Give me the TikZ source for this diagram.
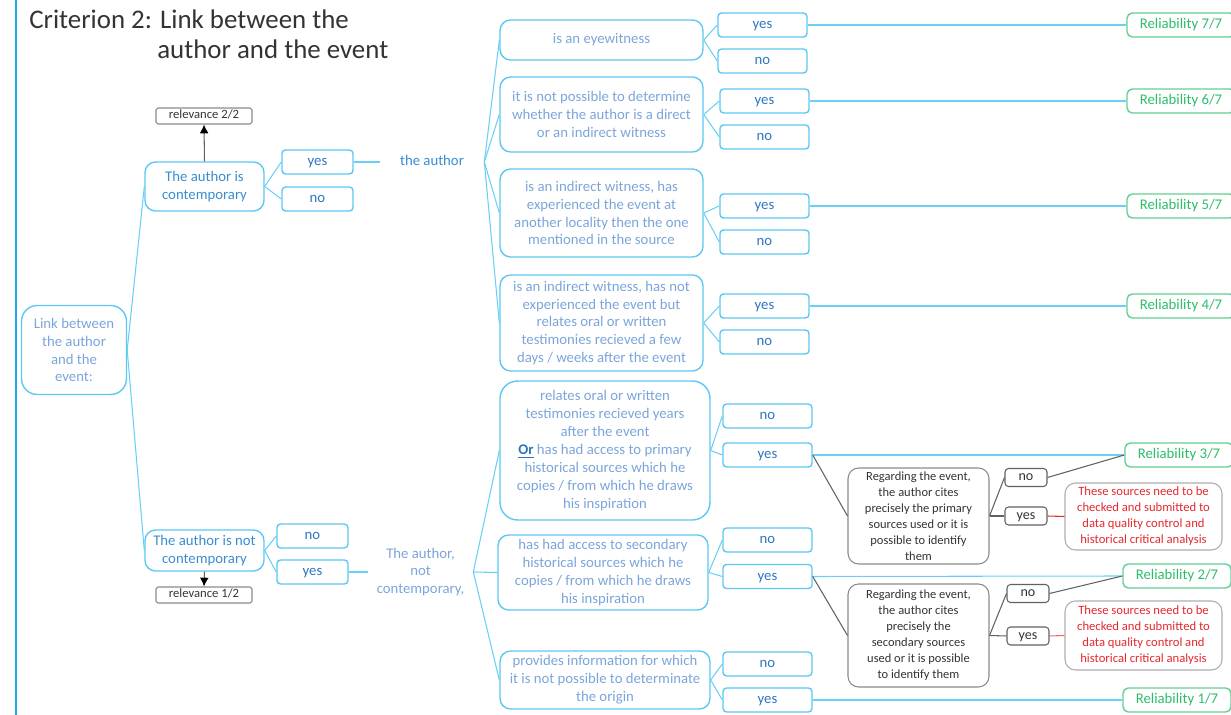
\documentclass[tikz,border=0pt]{standalone}
\usepackage{fontspec}
\setmainfont{Carlito}
\usetikzlibrary{arrows.meta}
\definecolor{frameblue}{HTML}{1EA7F0}
\definecolor{boxblue}{HTML}{5CC8F3}
\definecolor{lineblue}{HTML}{6ACFF5}
\definecolor{paleblue}{HTML}{7BA5DA}
\definecolor{textblue}{HTML}{2E75C0}
\definecolor{midblue}{HTML}{3A8DD0}
\definecolor{relgreen}{HTML}{2DBD6A}
\definecolor{relframe}{HTML}{63CF93}
\definecolor{greyframe}{HTML}{8A8A8A}
\definecolor{greytext}{HTML}{333333}
\definecolor{warnred}{HTML}{E4282C}
\def\mainfont{\fontsize{8.4}{10.2}\selectfont}
\def\smallfont{\fontsize{7.1}{9.1}\selectfont}
\tikzset{
	bluebox/.style={draw=boxblue, line width=0.8pt, rounded corners=6pt, align=center, inner sep=1pt, text=paleblue, font=\mainfont},
	oneline/.style={text height=6pt, text depth=2pt},
	answer/.style={draw=boxblue, line width=0.8pt, rounded corners=2pt, minimum width=1.78cm, minimum height=0.48cm, inner sep=0pt, oneline, text=textblue, font=\mainfont},
	relbox/.style={draw=relframe, line width=0.8pt, rounded corners=3pt, minimum width=2.16cm, minimum height=0.48cm, inner sep=0pt, oneline, text=relgreen, font=\mainfont},
	greybox/.style={draw=greyframe, line width=0.6pt, rounded corners=6pt, align=center, inner sep=0pt, text=greytext, font=\smallfont, minimum width=2.82cm},
	greyans/.style={draw=greyframe!70!black, line width=0.6pt, rounded corners=2pt, minimum width=0.84cm, minimum height=0.36cm, inner sep=0pt, text height=5.6pt, text depth=1.8pt, text=greytext, font=\fontsize{8}{9}\selectfont},
	redbox/.style={draw=greyframe!70, line width=0.6pt, rounded corners=6pt, align=center, inner sep=0pt, text=warnred, font=\fontsize{7.2}{9.1}\selectfont, minimum width=3.14cm},
	relevbox/.style={draw=greyframe, line width=0.6pt, rounded corners=1pt, minimum width=1.92cm, minimum height=0.32cm, inner sep=0pt, text height=5pt, text depth=1.6pt, text=greytext, font=\fontsize{7.2}{8}\selectfont},
	branch/.style={draw=lineblue, line width=0.6pt},
	greyline/.style={draw=greyframe!70!black, line width=0.6pt},
	redline/.style={draw=warnred, line width=0.6pt}
}

\begin{document}
\begin{tikzpicture}[x=0.02cm, y=-0.02cm]
			%%%%% START %%%%%
			\useasboundingbox (0, 0) rectangle (1231, 715);
			\draw[frameblue, line width=1.2pt] (16, 0) -- (16, 715);
			
			\node[anchor=west, inner sep=0pt, text=greytext, font=\fontsize{15.3}{17}\selectfont] (title1) at (29, 19) {Criterion 2: Link between the};
			\node[anchor=west, inner sep=0pt, text=greytext, font=\fontsize{15.3}{17}\selectfont] (title2) at (157, 49) {author and the event};
			
			\node[bluebox, rounded corners=9pt, minimum width=2.1cm, minimum height=1.78cm] (root) at (74, 350) {Link between\\the author\\and the\\event:};
			
			\node[bluebox, text=midblue, minimum width=2.38cm, minimum height=0.98cm] (cont) at (204.5, 186.5) {The author is\\contemporary};
			\node[bluebox, text=midblue, minimum width=2.38cm, minimum height=0.82cm] (notcont) at (204.5, 550.5) {The author is not\\contemporary};
			\node[relevbox] (relev2) at (204, 116) {relevance 2/2};
			\node[relevbox] (relev1) at (204, 595) {relevance 1/2};
			
			\node[answer, minimum width=1.42cm] (contyes) at (317.5, 162) {yes};
			\node[answer, minimum width=1.42cm] (contno) at (317.5, 199) {no};
			\node[answer, minimum width=1.42cm] (notcontno) at (312.5, 536) {no};
			\node[answer, minimum width=1.42cm] (notcontyes) at (312.5, 572) {yes};
			
			\node[inner sep=0pt, minimum width=2.08cm, oneline, text=midblue, font=\mainfont] (auth) at (432, 162) {the author};
			\node[inner sep=0pt, minimum width=2.1cm, align=center, text=paleblue, font=\mainfont] (notauth) at (420.5, 572) {The author,\\not\\contemporary,};
			
			% the author ...
			\node[bluebox, oneline, minimum width=4.06cm, minimum height=0.8cm] (eyew) at (601.5, 40) {is an eyewitness};
			\node[bluebox, minimum width=4.06cm, minimum height=1.5cm] (undet) at (601.5, 114.5) {it is not possible to determine\\whether the author is a direct\\or an indirect witness};
			\node[bluebox, minimum width=4.06cm, minimum height=1.76cm] (indir) at (601.5, 213) {is an indirect witness, has\\experienced the event at\\another locality then the one\\mentioned in the source};
			\node[bluebox, minimum width=4.06cm, minimum height=1.92cm] (indirnot) at (601.5, 323) {is an indirect witness, has not\\experienced the event but\\relates oral or written\\testimonies recieved a few\\days / weeks after the event};
			
			\node[answer] (eyewyes) at (762.5, 25) {yes};
			\node[answer] (eyewno) at (762.5, 61) {no};
			\node[answer] (undetyes) at (764.5, 101) {yes};
			\node[answer] (undetno) at (764.5, 137) {no};
			\node[answer] (indiryes) at (764.5, 206) {yes};
			\node[answer] (indirno) at (764.5, 242) {no};
			\node[answer] (indirnotyes) at (764.5, 306) {yes};
			\node[answer] (indirnotno) at (764.5, 342) {no};
			
			\node[relbox] (rel7) at (1181, 25) {Reliability 7/7};
			\node[relbox] (rel6) at (1181, 101) {Reliability 6/7};
			\node[relbox] (rel5) at (1181, 206) {Reliability 5/7};
			\node[relbox] (rel4) at (1181, 306) {Reliability 4/7};
			
			% the author, not contemporary ...
			\node[bluebox, rounded corners=10pt, minimum width=4.2cm, minimum height=2.78cm] (years) at (605, 450.5) {relates oral or written\\testimonies recieved years\\after the event\\{\color{textblue}\textbf{\underline{Or}}} has had access to primary\\historical sources which he\\copies / from which he draws\\his inspiration};
			\node[bluebox, minimum width=4.2cm, minimum height=1.5cm] (second) at (603, 572.5) {has had access to secondary\\historical sources which he\\copies / from which he draws\\his inspiration};
			\node[bluebox, minimum width=4.2cm, minimum height=1.16cm] (origin) at (605, 680) {provides information for which\\it is not possible to determinate\\the origin};
			
			\node[answer] (yearsno) at (767.5, 416) {no};
			\node[answer] (yearsyes) at (767.5, 455) {yes};
			\node[answer] (secondno) at (767.5, 540) {no};
			\node[answer] (secondyes) at (767.5, 576.5) {yes};
			\node[answer] (originno) at (767.5, 664) {no};
			\node[answer] (originyes) at (767.5, 700) {yes};
			
			\node[relbox] (rel3) at (1179, 455) {Reliability 3/7};
			\node[relbox] (rel2) at (1177, 576) {Reliability 2/7};
			\node[relbox] (rel1) at (1177, 700) {Reliability 1/7};
			
			\node[greybox, minimum height=1.92cm] (citeprim) at (918.5, 516) {Regarding the event,\\the author cites\\precisely the primary\\sources used or it is\\possible to identify\\them};
			\node[greybox, minimum height=2.06cm] (citesec) at (918.5, 635.5) {Regarding the event,\\the author cites\\precisely the\\secondary sources\\used or it is possible\\to identify them};
			\node[greyans] (citeprimno) at (1026, 477.5) {no};
			\node[greyans] (citeprimyes) at (1026, 516) {yes};
			\node[greyans] (citesecno) at (1028, 593.5) {no};
			\node[greyans] (citesecyes) at (1028, 636) {yes};
			\node[redbox, minimum height=1.34cm] (checkprim) at (1143.5, 516.5) {These sources need to be\\checked and submitted to\\data quality control and\\historical critical analysis};
			\node[redbox, minimum height=1.38cm] (checksec) at (1143.5, 635.5) {These sources need to be\\checked and submitted to\\data quality control and\\historical critical analysis};
			
			% connectors
			\draw[branch] (root.east) -- (cont.west);
			\draw[branch] (root.east) -- (notcont.west);
			\draw[branch] (cont.east) -- (contyes.west);
			\draw[branch] (cont.east) -- (contno.west);
			\draw[branch] (notcont.east) -- (notcontno.west);
			\draw[branch] (notcont.east) -- (notcontyes.west);
			\draw[greyline, -{Latex[length=5pt, width=5pt, black]}] (cont.north) -- (relev2.south);
			\draw[greyline, -{Latex[length=5pt, width=5pt, black]}] (notcont.south) -- (relev1.north);
			
			\draw[branch] (contyes.east) -- (auth.west);
			\draw[branch] (notcontyes.east) -- (notauth.west);
			
			\draw[branch] (auth.east) -- (eyew.west);
			\draw[branch] (auth.east) -- (undet.west);
			\draw[branch] (auth.east) -- (indir.west);
			\draw[branch] (auth.east) -- (indirnot.west);
			\draw[branch] (notauth.east) -- (years.west);
			\draw[branch] (notauth.east) -- (second.west);
			\draw[branch] (notauth.east) -- (origin.west);
			
			\draw[branch] (eyew.east) -- (eyewyes.west);
			\draw[branch] (eyew.east) -- (eyewno.west);
			\draw[branch] (undet.east) -- (undetyes.west);
			\draw[branch] (undet.east) -- (undetno.west);
			\draw[branch] (indir.east) -- (indiryes.west);
			\draw[branch] (indir.east) -- (indirno.west);
			\draw[branch] (indirnot.east) -- (indirnotyes.west);
			\draw[branch] (indirnot.east) -- (indirnotno.west);
			\draw[branch] (years.east) -- (yearsno.west);
			\draw[branch] (years.east) -- (yearsyes.west);
			\draw[branch] (second.east) -- (secondno.west);
			\draw[branch] (second.east) -- (secondyes.west);
			\draw[branch] (origin.east) -- (originno.west);
			\draw[branch] (origin.east) -- (originyes.west);
			
			\draw[branch] (eyewyes.east) -- (rel7.west);
			\draw[branch] (undetyes.east) -- (rel6.west);
			\draw[branch] (indiryes.east) -- (rel5.west);
			\draw[branch] (indirnotyes.east) -- (rel4.west);
			\draw[branch] (yearsyes.east) -- (rel3.west);
			\draw[branch] (secondyes.east) -- (rel2.west);
			\draw[branch] (originyes.east) -- (rel1.west);
			
			\draw[greyline] (yearsyes.east) -- (citeprim.west);
			\draw[greyline] (citeprim.east) -- (citeprimno.west);
			\draw[greyline] (citeprim.east) -- (citeprimyes.west);
			\draw[greyline] (citeprimno.east) -- (rel3.west);
			\draw[redline] (citeprimyes.east) -- (checkprim.west);
			
			\draw[greyline] (secondyes.east) -- (citesec.west);
			\draw[greyline] (citesec.east) -- (citesecno.west);
			\draw[greyline] (citesec.east) -- (citesecyes.west);
			\draw[greyline] (citesecno.east) -- (rel2.west);
			\draw[redline, warnred!70] (citesecyes.east) -- (checksec.west);
			%%%%% END %%%%%
\end{tikzpicture}
\end{document}
